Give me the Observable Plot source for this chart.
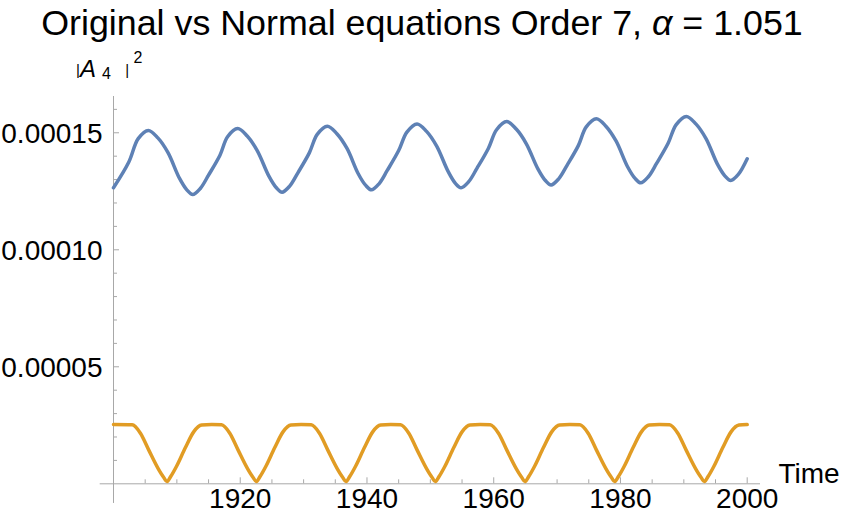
<!DOCTYPE html>
<html>
<head>
<meta charset="utf-8">
<script src="https://cdn.jsdelivr.net/npm/d3@7"></script>
<script src="https://cdn.jsdelivr.net/npm/@observablehq/plot@0.6"></script>
<style>
  body { margin: 0; background: #fff; }
  #chart { width: 844px; }
  .title {
    height: 48px; line-height: 46px; text-align: center; white-space: nowrap;
    font-family: "Liberation Sans", Arial, Helvetica, sans-serif; font-size: 35.8px; color: #000;
  }
</style>
</head>
<body>
<div id="chart">
  <div class="title">Original vs Normal equations Order 7, <i>α</i> = 1.051</div>
</div>
<script>
// |A4|^2 from the original equations (blue)
const origTime = [
  1900.0, 1902.4, 1903.9, 1905.5, 1907.0, 1908.6, 1910.4, 1911.6, 1912.5, 1913.7, 1915.0, 1916.8, 1918.0,
  1919.6, 1921.1, 1922.7, 1924.5, 1925.7, 1926.6, 1927.8, 1929.1, 1930.9, 1932.15,
  1933.75, 1935.25, 1936.85, 1938.6, 1939.8, 1940.7, 1941.9, 1943.2, 1945.0, 1946.3,
  1947.9, 1949.4, 1951.0, 1952.8, 1953.95, 1954.85, 1956.05, 1957.35, 1959.15, 1960.45,
  1962.05, 1963.55, 1965.15, 1966.95, 1968.15, 1969.05, 1970.25, 1971.55, 1973.35, 1974.6,
  1976.2, 1977.7, 1979.3, 1981.1, 1982.3, 1983.2, 1984.4, 1985.7, 1987.5, 1988.8,
  1990.4, 1991.9, 1993.5, 1995.3, 1996.5, 1997.4, 1998.6, 2000.0
];
const origValue = [
  1.265e-4, 1.374e-4, 1.475e-4, 1.510e-4, 1.478e-4, 1.415e-4, 1.306e-4, 1.255e-4, 1.236e-4, 1.262e-4, 1.319e-4, 1.404e-4, 1.483e-4,
  1.518e-4, 1.486e-4, 1.423e-4, 1.316e-4, 1.265e-4, 1.246e-4, 1.272e-4, 1.329e-4, 1.414e-4, 1.493e-4,
  1.528e-4, 1.496e-4, 1.433e-4, 1.326e-4, 1.275e-4, 1.256e-4, 1.282e-4, 1.339e-4, 1.424e-4, 1.503e-4,
  1.538e-4, 1.506e-4, 1.443e-4, 1.335e-4, 1.284e-4, 1.265e-4, 1.291e-4, 1.348e-4, 1.433e-4, 1.513e-4,
  1.548e-4, 1.516e-4, 1.453e-4, 1.347e-4, 1.296e-4, 1.277e-4, 1.303e-4, 1.360e-4, 1.445e-4, 1.525e-4,
  1.560e-4, 1.528e-4, 1.465e-4, 1.356e-4, 1.305e-4, 1.286e-4, 1.312e-4, 1.369e-4, 1.454e-4, 1.535e-4,
  1.570e-4, 1.538e-4, 1.475e-4, 1.366e-4, 1.315e-4, 1.296e-4, 1.322e-4, 1.389e-4
];

// |A4|^2 from the normal equations (orange)
const normTime = [
  1900.0,
  1902.95, 1904.25, 1905.55, 1907.05, 1907.85, 1908.45, 1909.05, 1909.95, 1911.35, 1912.65, 1913.9, 1915.5,
  1917.05, 1918.35, 1919.65, 1921.15, 1921.95, 1922.55, 1923.15, 1924.05, 1925.45, 1926.75, 1928.0, 1929.6,
  1931.2, 1932.5, 1933.8, 1935.3, 1936.1, 1936.7, 1937.3, 1938.2, 1939.6, 1940.9, 1942.15, 1943.75,
  1945.3, 1946.6, 1947.9, 1949.4, 1950.2, 1950.8, 1951.4, 1952.3, 1953.7, 1955.0, 1956.25, 1957.85,
  1959.45, 1960.75, 1962.05, 1963.55, 1964.35, 1964.95, 1965.55, 1966.45, 1967.85, 1969.15, 1970.4, 1972.0,
  1973.6, 1974.9, 1976.2, 1977.7, 1978.5, 1979.1, 1979.7, 1980.6, 1982.0, 1983.3, 1984.55, 1986.15,
  1987.75, 1989.05, 1990.35, 1991.85, 1992.65, 1993.25, 1993.85, 1994.75, 1996.15, 1997.45, 1998.7, 2000.0
];
const normValue = [
  2.53e-5,
  2.52e-5, 2.16e-5, 1.45e-5, 0.65e-5, 0.30e-5, 0.10e-5, 0.32e-5, 0.75e-5, 1.55e-5, 2.22e-5, 2.51e-5, 2.53e-5,
  2.52e-5, 2.16e-5, 1.45e-5, 0.65e-5, 0.30e-5, 0.10e-5, 0.32e-5, 0.75e-5, 1.55e-5, 2.22e-5, 2.51e-5, 2.53e-5,
  2.52e-5, 2.16e-5, 1.45e-5, 0.65e-5, 0.30e-5, 0.10e-5, 0.32e-5, 0.75e-5, 1.55e-5, 2.22e-5, 2.51e-5, 2.53e-5,
  2.52e-5, 2.16e-5, 1.45e-5, 0.65e-5, 0.30e-5, 0.10e-5, 0.32e-5, 0.75e-5, 1.55e-5, 2.22e-5, 2.51e-5, 2.53e-5,
  2.52e-5, 2.16e-5, 1.45e-5, 0.65e-5, 0.30e-5, 0.10e-5, 0.32e-5, 0.75e-5, 1.55e-5, 2.22e-5, 2.51e-5, 2.53e-5,
  2.52e-5, 2.16e-5, 1.45e-5, 0.65e-5, 0.30e-5, 0.10e-5, 0.32e-5, 0.75e-5, 1.55e-5, 2.22e-5, 2.51e-5, 2.53e-5,
  2.52e-5, 2.16e-5, 1.45e-5, 0.65e-5, 0.30e-5, 0.10e-5, 0.32e-5, 0.75e-5, 1.55e-5, 2.22e-5, 2.51e-5, 2.53e-5
];

// Axis ticks
const xTicksMajor = [1920, 1940, 1960, 1980, 2000];
const xTicksMinor = [1905, 1910, 1915, 1925, 1930, 1935, 1945, 1950, 1955, 1965, 1970, 1975, 1985, 1990, 1995];
const yTicksMajor = [0.00005, 0.00010, 0.00015];
const yTicksMinor = [0.00001, 0.00002, 0.00003, 0.00004, 0.00006, 0.00007, 0.00008, 0.00009,
                     0.00011, 0.00012, 0.00013, 0.00014, 0.00016];

// Plot range and the extent of the crossing axes
const xDomain = [1900, 2000];
const yDomain = [0, 0.0001655];
const xAxisExtent = [1897.9, 2002.1];
const yAxisExtent = [-0.0000084, 0.0001655];

const W = 844, H = 482;
const margin = {top: 48, right: 97.3, bottom: 46.7, left: 113};
const frameW = W - margin.left - margin.right;
const frameH = H - margin.top - margin.bottom;

const original = origTime.map((t, i) => ({t, v: origValue[i]}));
const normal = normTime.map((t, i) => ({t, v: normValue[i]}));

const font = "'Liberation Sans', Arial, Helvetica, sans-serif";
const axisColor = "#a8a8a8";
const blue = "#5E81B5";
const orange = "#E19C24";

const plot = Plot.plot({
  width: W,
  height: H,
  marginTop: margin.top,
  marginRight: margin.right,
  marginBottom: margin.bottom,
  marginLeft: margin.left,
  x: {domain: xDomain, axis: null},
  y: {domain: yDomain, axis: null},
  style: {fontFamily: font, fontSize: "28px", color: "#000", background: "#fff", overflow: "visible"},
  marks: [
    Plot.ruleY([0], {x1: xAxisExtent[0], x2: xAxisExtent[1], stroke: axisColor, strokeWidth: 1}),
    Plot.ruleX([xDomain[0]], {y1: yAxisExtent[0], y2: yAxisExtent[1], stroke: axisColor, strokeWidth: 1}),
    Plot.tickX(xTicksMajor, {x: d => d, insetTop: frameH - 6, stroke: axisColor}),
    Plot.tickX(xTicksMinor, {x: d => d, insetTop: frameH - 4, stroke: axisColor}),
    Plot.tickY(yTicksMajor, {y: d => d, insetRight: frameW - 6, stroke: axisColor}),
    Plot.tickY(yTicksMinor, {y: d => d, insetRight: frameW - 4, stroke: axisColor}),
    Plot.line(original, {x: "t", y: "v", stroke: blue, strokeWidth: 3.5, curve: "catmull-rom"}),
    Plot.line(normal, {x: "t", y: "v", stroke: orange, strokeWidth: 3.5, curve: "monotone-x"}),
    Plot.text(yTicksMajor, {y: d => d, frameAnchor: "left", text: d => d3.format(".5f")(d),
      textAnchor: "end", dx: -11, dy: 1, fontSize: 28, fill: "#000"}),
    Plot.text(xTicksMajor, {x: d => d, frameAnchor: "bottom", text: d => String(d),
      dy: 24.5, fontSize: 28, fill: "#000"}),
    Plot.text(["Time"], {frameAnchor: "bottom-right", text: d => d, textAnchor: "start",
      dx: 31.3, dy: -1.3, fontSize: 28, fill: "#000"})
  ]
});

// Axis label |A4|^2 centred over the top of the vertical axis
const x0 = plot.scale("x").apply(xDomain[0]);
const label = d3.select(plot).append("text")
  .attr("y", 29.3)
  .style("font-family", font)
  .attr("fill", "#000");
label.append("tspan").attr("x", x0 - 35).attr("dy", -2.6).style("font-size", "15px").text("|");
label.append("tspan").attr("x", x0 - 25).attr("dy", 2.6).style("font-size", "24px").style("font-style", "italic").text("A");
label.append("tspan").attr("x", x0 - 6.5).attr("dy", 2).style("font-size", "16px").text("4");
label.append("tspan").attr("x", x0 + 14.3).attr("dy", -4.6).style("font-size", "15px").text("|");
label.append("tspan").attr("x", x0 + 25).attr("dy", -12).style("font-size", "16px").text("2");

document.getElementById("chart").appendChild(plot);
</script>
</body>
</html>
